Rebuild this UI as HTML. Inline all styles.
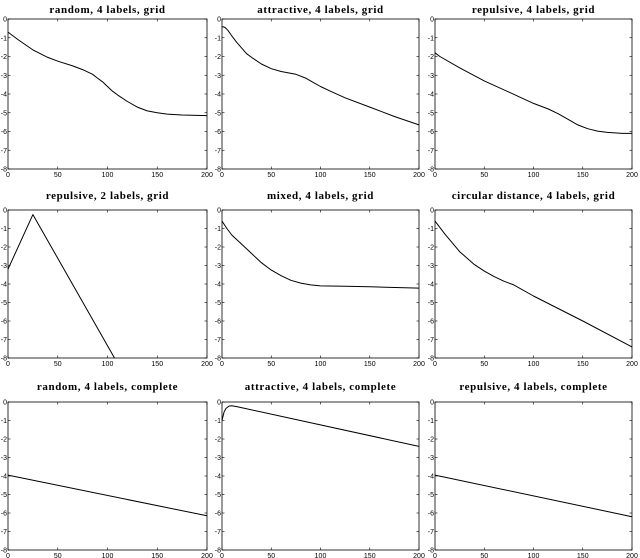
<!DOCTYPE html>
<html><head><meta charset="utf-8">
<style>
body{margin:0;background:#fff;}
svg{display:block;}
.t{font-family:"Liberation Serif",serif;font-size:11px;font-weight:bold;letter-spacing:0.6px;}
.k{font-family:"Liberation Sans",sans-serif;font-size:7px;fill:#000;}
</style></head>
<body>
<svg id="c" width="640" height="558" xmlns="http://www.w3.org/2000/svg"></svg>
<script>
const titles=["random, 4 labels, grid","attractive, 4 labels, grid","repulsive, 4 labels, grid","repulsive, 2 labels, grid","mixed, 4 labels, grid","circular distance, 4 labels, grid","random, 4 labels, complete","attractive, 4 labels, complete","repulsive, 4 labels, complete"];
const xs1=[0,10,25,40,50,65,75,85,90,95,100,105,110,120,130,140,150,160,175,200];
const ys1=[-0.7,-1.1,-1.65,-2.05,-2.25,-2.5,-2.7,-2.95,-3.15,-3.35,-3.6,-3.85,-4.05,-4.4,-4.7,-4.9,-5.0,-5.07,-5.12,-5.15];
const xs2=[0,3,6,10,15,20,25,30,40,50,60,75,85,90,100,110,125,150,175,200];
const ys2=[-0.4,-0.45,-0.6,-0.9,-1.25,-1.55,-1.85,-2.05,-2.4,-2.65,-2.8,-2.95,-3.15,-3.3,-3.6,-3.85,-4.2,-4.7,-5.2,-5.65];
const xs3=[0,5,25,50,75,100,115,125,135,145,155,165,175,190,200];
const ys3=[-1.8,-2.0,-2.6,-3.3,-3.9,-4.5,-4.8,-5.05,-5.35,-5.65,-5.85,-5.98,-6.05,-6.1,-6.1];
const xs4=[0,25,107];
const ys4=[-3.2,-0.25,-8];
const xs5=[0,5,10,20,30,40,50,60,70,80,90,100,125,150,200];
const ys5=[-0.6,-1.0,-1.35,-1.85,-2.35,-2.85,-3.25,-3.55,-3.8,-3.95,-4.05,-4.1,-4.12,-4.15,-4.22];
const xs6=[0,10,25,40,50,60,70,80,100,150,200];
const ys6=[-0.6,-1.3,-2.25,-2.95,-3.3,-3.6,-3.85,-4.05,-4.65,-6.0,-7.4];
const xs7=[0,200];
const ys7=[-3.95,-6.15];
const xs8=[0,2,4,7,10,15,200];
const ys8=[-1.0,-0.55,-0.35,-0.22,-0.2,-0.25,-2.4];
const xs9=[0,200];
const ys9=[-3.95,-6.2];
const xTicks=[0,50,100,150,200];
const yTicks=[0,-1,-2,-3,-4,-5,-6,-7,-8];
const series=[[xs1,ys1],[xs2,ys2],[xs3,ys3],[xs4,ys4],[xs5,ys5],[xs6,ys6],[xs7,ys7],[xs8,ys8],[xs9,ys9]];
const cols=[[8,207],[222,419],[435,632]];
const rows=[[19,169],[210,358],[402,550]];
const ttlY=[13,199,390];
const svg=document.getElementById('c');
const NS="http://www.w3.org/2000/svg";
function mk(t,a,p){const e=document.createElementNS(NS,t);for(const k in a)e.setAttribute(k,a[k]);p.appendChild(e);return e;}
for(let i=0;i<9;i++){
  const [x0,x1]=cols[i%3],[y0,y1]=rows[Math.floor(i/3)];
  const sx=v=>x0+(v/200)*(x1-x0), sy=v=>y0+(-v/8)*(y1-y0);
  const g=mk('g',{},svg);
  
  
  const t=mk('text',{x:(x0+x1)/2,y:ttlY[Math.floor(i/3)],'text-anchor':'middle',class:'t'},g);
  t.textContent=titles[i];
  
  
  const r=mk('rect',{x:x0,y:y0,width:x1-x0,height:y1-y0,fill:'none',stroke:'#000','stroke-width':0.8},g);
  
  
  xTicks.forEach(v=>{const X=sx(v);
    mk('line',{x1:X,x2:X,y1:y1,y2:y1-2.5,stroke:'#000','stroke-width':0.6},g);
    mk('line',{x1:X,x2:X,y1:y0,y2:y0+2.5,stroke:'#000','stroke-width':0.6},g);
    const l=mk('text',{x:X,y:y1+8,'text-anchor':'middle',class:'k'},g);l.textContent=v;
    
    });
  yTicks.forEach(v=>{const Y=sy(v);
    mk('line',{x1:x0,x2:x0+2.5,y1:Y,y2:Y,stroke:'#000','stroke-width':0.6},g);
    mk('line',{x1:x1,x2:x1-2.5,y1:Y,y2:Y,stroke:'#000','stroke-width':0.6},g);
    const l=mk('text',{x:x0-1,y:Y+2.5,'text-anchor':'end',class:'k'},g);l.textContent=v;
    
    });
  const [xs,ys]=series[i];
  const pts=xs.map((v,j)=>sx(v).toFixed(1)+','+sy(ys[j]).toFixed(1)).join(' ');
  const pl=mk('polyline',{points:pts,fill:'none',stroke:'#000','stroke-width':1,'stroke-linejoin':'round'},g);
  
  
}
</script>
</body></html>
